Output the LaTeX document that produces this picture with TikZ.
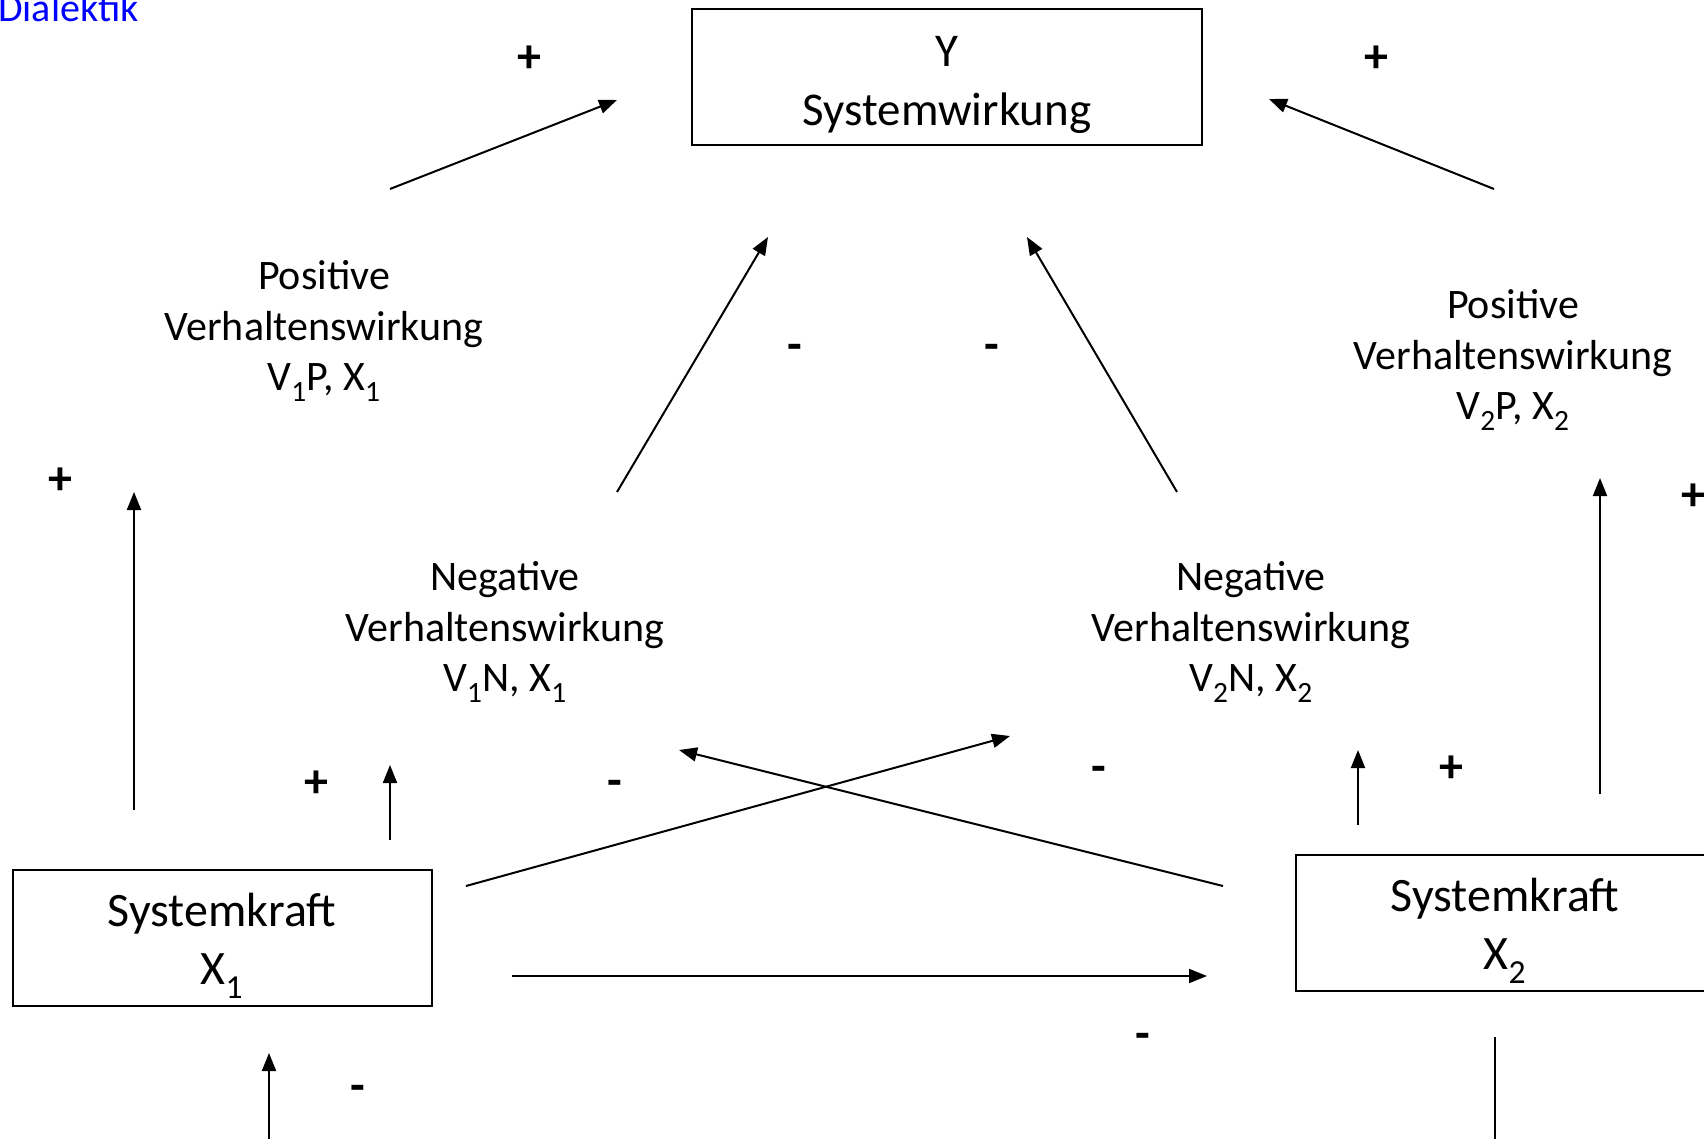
\documentclass[tikz,border=0pt]{standalone}
\usepackage{fontspec}
\setmainfont{Carlito}
\usetikzlibrary{positioning,calc,arrows.meta}

\begin{document}
\begin{tikzpicture}[
    x=1pt,y=-1pt,
    wire/.style={draw=black,line width=2pt},
    arr/.style={wire,-{Triangle[length=18pt,width=14pt]}},
    box/.style={draw=black,line width=2pt,align=center,inner sep=0pt,
                minimum height=136pt},
    effect/.style={align=center,inner sep=0pt,
                   font=\fontsize{42}{50.5}\selectfont},
    sign/.style={inner sep=0pt,font=\fontsize{48}{48}\selectfont\bfseries}
]
  \useasboundingbox (0,0) rectangle (1704,1139);

  % Title in the upper left corner.
  \node[anchor=base west,inner sep=0pt,text=blue,
        font=\fontsize{40}{48}\selectfont] (title) at (-2,22) {Dialektik};

  % The three boxes: effect on top, the two forces below.
  \node[box,minimum width=510pt,font=\fontsize{47}{59}\selectfont]
    (sysY) at (947,77) {\rule{0pt}{46pt}Y\\Systemwirkung};
  \node[box,minimum width=419pt,font=\fontsize{48}{58}\selectfont]
    (sysX1) at (222,938) {\rule{0pt}{49pt}Systemkraft\\X\textsubscript{1}};
  \node[box,minimum width=418pt,font=\fontsize{48}{58}\selectfont]
    (sysX2) at (1505,923) {\rule{0pt}{49pt}Systemkraft\\X\textsubscript{2}};

  % Behaviour effects.
  \node[effect] (posV1) at (324,331)
    {Positive\\Verhaltenswirkung\\V\textsubscript{1}P, X\textsubscript{1}};
  \node[effect] (posV2) at (1513,360)
    {Positive\\Verhaltenswirkung\\V\textsubscript{2}P, X\textsubscript{2}};
  \node[effect] (negV1) at (505,632)
    {Negative\\Verhaltenswirkung\\V\textsubscript{1}N, X\textsubscript{1}};
  \node[effect] (negV2) at (1251,632)
    {Negative\\Verhaltenswirkung\\V\textsubscript{2}N, X\textsubscript{2}};

  % End points of the connectors.
  \coordinate (p1y) at (390,189);   \coordinate (y1) at (617,100);
  \coordinate (p2y) at (1494,189);  \coordinate (y2) at (1269,99);
  \coordinate (n1y) at (617,492);   \coordinate (y3) at (768,237);
  \coordinate (n2y) at (1177,492);  \coordinate (y4) at (1027,237);
  \coordinate (x1p) at (134,810);   \coordinate (p1) at (134,492);
  \coordinate (x1n) at (390,840);   \coordinate (n1) at (390,765);
  \coordinate (x1c) at (466,886);   \coordinate (n2) at (1010,736);
  \coordinate (x2c) at (1223,886);  \coordinate (n1b) at (679,750);
  \coordinate (x1r) at (512,976);   \coordinate (x2) at (1207,976);
  \coordinate (x2n) at (1358,825);  \coordinate (n2b) at (1358,750);
  \coordinate (x2p) at (1600,794);  \coordinate (p2) at (1600,478);
  \coordinate (lowA) at (269,1139); \coordinate (x1b) at (269,1053);
  \coordinate (x2b) at (1495,1037); \coordinate (lowB) at (1495,1139);

  \draw[arr] (p1y) -- (y1);
  \draw[arr] (p2y) -- (y2);
  \draw[arr] (n1y) -- (y3);
  \draw[arr] (n2y) -- (y4);
  \draw[arr] (x1p) -- (p1);
  \draw[arr] (x1n) -- (n1);
  \draw[arr] (x1c) -- (n2);
  \draw[arr] (x2c) -- (n1b);
  \draw[arr] (x1r) -- (x2);
  \draw[arr] (x2n) -- (n2b);
  \draw[arr] (x2p) -- (p2);
  \draw[arr] (lowA) -- (x1b);
  \draw[wire] (x2b) -- (lowB);

  % Signs of the influences.
  \node[sign] (sgnA) at (529,59)   {+};
  \node[sign] (sgnB) at (1376,59)  {+};
  \node[sign] (sgnC) at (795,352)  {-};
  \node[sign] (sgnD) at (992,352)  {-};
  \node[sign] (sgnE) at (60,481)   {+};
  \node[sign] (sgnF) at (1693,497) {+};
  \node[sign] (sgnG) at (316,784)  {+};
  \node[sign] (sgnH) at (615,788)  {-};
  \node[sign] (sgnI) at (1099,774) {-};
  \node[sign] (sgnJ) at (1451,769) {+};
  \node[sign] (sgnK) at (1143,1041) {-};
  \node[sign] (sgnL) at (358,1093) {-};
\end{tikzpicture}
\end{document}
